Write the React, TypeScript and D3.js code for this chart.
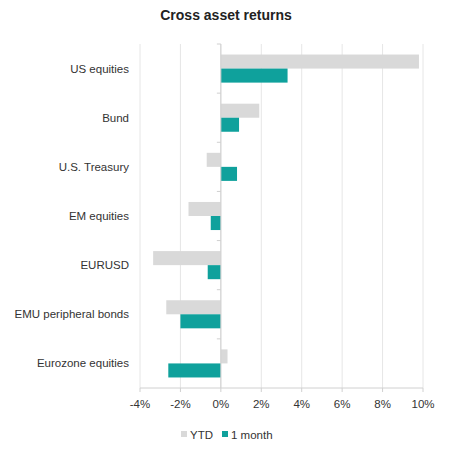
import * as d3 from "d3";

const categories = [
  "US equities",
  "Bund",
  "U.S. Treasury",
  "EM equities",
  "EURUSD",
  "EMU peripheral bonds",
  "Eurozone equities",
];
const seriesNames = ["YTD", "1 month"];
const ytd = [9.8, 1.9, -0.7, -1.6, -3.35, -2.7, 0.33];
const oneMonth = [3.3, 0.9, 0.8, -0.5, -0.65, -2.0, -2.6];
const xTicks = [-4, -2, 0, 2, 4, 6, 8, 10];
const colors = ["#d9d9d9", "#0fa19c"];

const W = 454;
const H = 450;
const margin = { top: 44, right: 31, bottom: 62, left: 140 };

export default function App() {
  const innerW = W - margin.left - margin.right;
  const innerH = H - margin.top - margin.bottom;

  const x = d3.scaleLinear().domain([-4, 10]).range([0, innerW]);
  const y = d3.scaleBand().domain(categories).range([0, innerH]);
  const sub = d3
    .scaleBand()
    .domain(seriesNames)
    .range([0, y.bandwidth()])
    .paddingInner(0)
    .paddingOuter(0.75);

  const series = [ytd, oneMonth];
  const font = "'Liberation Sans', Arial, sans-serif";

  return (
    <svg
      width={W}
      height={H}
      style={{ position: "absolute", left: 0, top: 0, background: "#fff", fontFamily: font }}
    >
      <text x={226} y={20} textAnchor="middle" fontSize={14} fontWeight="bold" fill="#222">
        Cross asset returns
      </text>
      <g transform={`translate(${margin.left},${margin.top})`}>
        {xTicks.map((t) => (
          <line
            key={"g" + t}
            x1={x(t)}
            x2={x(t)}
            y1={0}
            y2={innerH}
            stroke="#e6e6e6"
            strokeWidth={1}
          />
        ))}
        {series.map((vals, si) =>
          vals.map((v, i) => (
            <rect
              key={si + "-" + i}
              x={x(Math.min(0, v))}
              y={(y(categories[i]) ?? 0) + (sub(seriesNames[si]) ?? 0)}
              width={Math.abs(x(v) - x(0))}
              height={sub.bandwidth()}
              fill={colors[si]}
            />
          ))
        )}
        <line x1={x(0)} x2={x(0)} y1={0} y2={innerH} stroke="#d0d0d0" />
        {categories.map((c, i) => (
          <line
            key={"yt" + i}
            x1={x(0) - 4}
            x2={x(0)}
            y1={y(c) ?? 0}
            y2={y(c) ?? 0}
            stroke="#d0d0d0"
          />
        ))}
        {categories.map((c) => (
          <text
            key={"l" + c}
            x={-11}
            y={(y(c) ?? 0) + y.bandwidth() / 2}
            dy="0.35em"
            textAnchor="end"
            fontSize={11.5}
            fill="#333"
          >
            {c}
          </text>
        ))}
        <line x1={0} x2={innerW} y1={innerH} y2={innerH} stroke="#d0d0d0" />
        {xTicks.map((t) => (
          <g key={"xt" + t} transform={`translate(${x(t)},${innerH})`}>
            <line y1={0} y2={4} stroke="#d0d0d0" />
            <text y={16} dy="0.35em" textAnchor="middle" fontSize={11.5} fill="#333">
              {t + "%"}
            </text>
          </g>
        ))}
      </g>
      <g transform="translate(181,435)">
        {seriesNames.map((s, i) => {
          const ox = i === 0 ? 0 : 41;
          return (
            <g key={s} transform={`translate(${ox},0)`}>
              <rect x={0} y={-4} width={6} height={6} fill={colors[i]} />
              <text x={9} y={0} dy="0.35em" fontSize={11.5} fill="#333">
                {s}
              </text>
            </g>
          );
        })}
      </g>
    </svg>
  );
}
